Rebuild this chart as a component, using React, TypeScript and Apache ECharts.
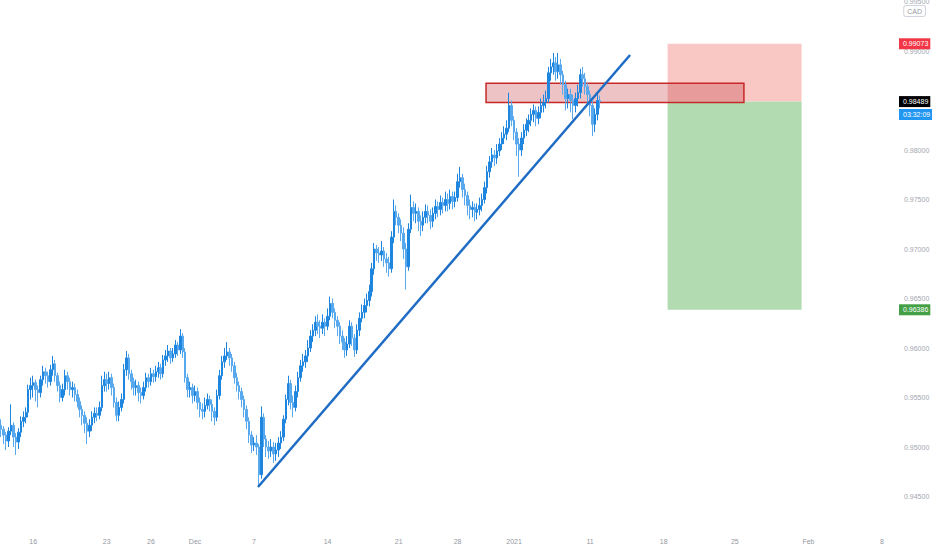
import React, { useEffect, useRef } from "react";
import * as echarts from "echarts";

// ---- time slots (4-hour bars) and date labels ----
const slotCount = 366;
const tickSlots = [13, 43, 61, 79, 103, 133, 162, 186, 209, 240, 270, 299, 329, 359];
const tickLabels = ["16", "23", "26", "Dec", "7", "14", "21", "28", "2021", "11", "18", "25", "Feb", "8"];

// ---- OHLC values (4-hour candles) ----
const firstOpen = 0.9522;
const closes = [
  0.9518, 0.9512, 0.9506, 0.9516, 0.9522, 0.9510, 0.9505, 0.9515, 0.9526, 0.9530,
  0.9535, 0.9558, 0.9562, 0.9565, 0.9558, 0.9555, 0.9568, 0.9576, 0.9572, 0.9566,
  0.9578, 0.9584, 0.9572, 0.9562, 0.9550, 0.9558, 0.9572, 0.9566, 0.9558, 0.9560,
  0.9553, 0.9546, 0.9538, 0.9532, 0.9524, 0.9516, 0.9522, 0.9530, 0.9534, 0.9532,
  0.9540, 0.9562, 0.9568, 0.9564, 0.9570, 0.9560, 0.9545, 0.9532, 0.9540, 0.9548,
  0.9578, 0.9590, 0.9574, 0.9566, 0.9560, 0.9562, 0.9555, 0.9552, 0.9560, 0.9570,
  0.9566, 0.9574, 0.9571, 0.9576, 0.9580, 0.9574, 0.9588, 0.9592, 0.9597, 0.9590,
  0.9594, 0.9603, 0.9598, 0.9612, 0.9596, 0.9570, 0.9558, 0.9560, 0.9552, 0.9556,
  0.9545, 0.9538, 0.9536, 0.9542, 0.9548, 0.9543, 0.9536, 0.9530, 0.9552, 0.9572,
  0.9586, 0.9592, 0.9596, 0.9590, 0.9582, 0.9570, 0.9562, 0.9556, 0.9548, 0.9538,
  0.9526, 0.9512, 0.9502, 0.9504, 0.9500, 0.9472, 0.9530, 0.9508, 0.9500, 0.9496,
  0.9500, 0.9493, 0.9497, 0.9504, 0.9510, 0.9528, 0.9548, 0.9564, 0.9545, 0.9540,
  0.9556, 0.9570, 0.9582, 0.9586, 0.9592, 0.9600, 0.9612, 0.9618, 0.9626, 0.9622,
  0.9620, 0.9626, 0.9622, 0.9632, 0.9645, 0.9636, 0.9628, 0.9622, 0.9612, 0.9606,
  0.9598, 0.9604, 0.9622, 0.9610, 0.9598, 0.9618, 0.9630, 0.9636, 0.9643, 0.9648,
  0.9657, 0.9680, 0.9700, 0.9696, 0.9694, 0.9698, 0.9690, 0.9686, 0.9680, 0.9712,
  0.9738, 0.9732, 0.9724, 0.9716, 0.9700, 0.9682, 0.9720, 0.9742, 0.9736, 0.9738,
  0.9728, 0.9724, 0.9732, 0.9738, 0.9734, 0.9728, 0.9736, 0.9743, 0.9740, 0.9747,
  0.9744, 0.9750, 0.9746, 0.9753, 0.9748, 0.9752, 0.9768, 0.9772, 0.9760, 0.9754,
  0.9744, 0.9740, 0.9742, 0.9737, 0.9740, 0.9744, 0.9750, 0.9762, 0.9778, 0.9788,
  0.9795, 0.9792, 0.9799, 0.9806, 0.9812, 0.9816, 0.9822, 0.9845, 0.9830, 0.9818,
  0.9806, 0.9800, 0.9812, 0.9820, 0.9826, 0.9830, 0.9836, 0.9840, 0.9832, 0.9838,
  0.9845, 0.9848, 0.9852, 0.9878, 0.9884, 0.9888, 0.9879, 0.9886, 0.9876, 0.9866,
  0.9852, 0.9856, 0.9850, 0.9845, 0.9852, 0.9858, 0.9876, 0.9872, 0.9864, 0.9856,
  0.9845, 0.9826, 0.9836, 0.9850, 0.98489,
];
const highs = [
  0.9528, 0.9521, 0.9515, 0.9520, 0.9543, 0.9525, 0.9514, 0.9519, 0.9531, 0.9536,
  0.9540, 0.9563, 0.9570, 0.9572, 0.9568, 0.9562, 0.9572, 0.9582, 0.9580, 0.9576,
  0.9583, 0.9592, 0.9588, 0.9575, 0.9566, 0.9564, 0.9578, 0.9576, 0.9570, 0.9566,
  0.9564, 0.9558, 0.9550, 0.9542, 0.9536, 0.9530, 0.9528, 0.9536, 0.9540, 0.9540,
  0.9546, 0.9572, 0.9576, 0.9574, 0.9576, 0.9574, 0.9564, 0.9550, 0.9546, 0.9554,
  0.9584, 0.9597, 0.9594, 0.9578, 0.9570, 0.9568, 0.9566, 0.9560, 0.9566, 0.9575,
  0.9574, 0.9580, 0.9578, 0.9582, 0.9586, 0.9584, 0.9593, 0.9598, 0.9603, 0.9600,
  0.9600, 0.9608, 0.9606, 0.9619, 0.9615, 0.9600, 0.9574, 0.9566, 0.9564, 0.9562,
  0.9560, 0.9550, 0.9544, 0.9550, 0.9554, 0.9552, 0.9548, 0.9540, 0.9558, 0.9578,
  0.9592, 0.9600, 0.9606, 0.9600, 0.9594, 0.9586, 0.9575, 0.9566, 0.9560, 0.9552,
  0.9542, 0.9530, 0.9516, 0.9510, 0.9512, 0.9503, 0.9541, 0.9534, 0.9512, 0.9506,
  0.9508, 0.9505, 0.9504, 0.9510, 0.9516, 0.9532, 0.9553, 0.9572, 0.9568, 0.9552,
  0.9562, 0.9576, 0.9588, 0.9594, 0.9598, 0.9608, 0.9618, 0.9624, 0.9632, 0.9634,
  0.9628, 0.9634, 0.9630, 0.9640, 0.9652, 0.9650, 0.9640, 0.9632, 0.9626, 0.9618,
  0.9610, 0.9612, 0.9628, 0.9626, 0.9614, 0.9624, 0.9636, 0.9644, 0.9650, 0.9655,
  0.9664, 0.9686, 0.9706, 0.9704, 0.9702, 0.9708, 0.9702, 0.9696, 0.9692, 0.9718,
  0.9750, 0.9744, 0.9736, 0.9730, 0.9722, 0.9706, 0.9726, 0.9755, 0.9748, 0.9746,
  0.9742, 0.9734, 0.9738, 0.9745, 0.9744, 0.9740, 0.9742, 0.9750, 0.9748, 0.9754,
  0.9752, 0.9758, 0.9756, 0.9760, 0.9758, 0.9758, 0.9776, 0.9783, 0.9776, 0.9766,
  0.9758, 0.9750, 0.9748, 0.9746, 0.9746, 0.9752, 0.9756, 0.9768, 0.9784, 0.9794,
  0.9802, 0.9800, 0.9806, 0.9812, 0.9818, 0.9824, 0.9830, 0.9858, 0.9850, 0.9834,
  0.9822, 0.9812, 0.9818, 0.9826, 0.9832, 0.9836, 0.9842, 0.9846, 0.9844, 0.9844,
  0.9852, 0.9856, 0.9860, 0.9884, 0.9892, 0.9898, 0.9894, 0.9898, 0.9892, 0.9880,
  0.9870, 0.9862, 0.9862, 0.9856, 0.9858, 0.9866, 0.9882, 0.9884, 0.9878, 0.9868,
  0.9860, 0.9850, 0.9842, 0.9856, 0.9855,
];
const lows = [
  0.9510, 0.9503, 0.9497, 0.9500, 0.9512, 0.9500, 0.9492, 0.9498, 0.9510, 0.9520,
  0.9524, 0.9530, 0.9548, 0.9550, 0.9546, 0.9540, 0.9550, 0.9562, 0.9564, 0.9560,
  0.9562, 0.9572, 0.9566, 0.9556, 0.9545, 0.9546, 0.9552, 0.9558, 0.9552, 0.9550,
  0.9546, 0.9540, 0.9530, 0.9522, 0.9514, 0.9503, 0.9510, 0.9516, 0.9524, 0.9526,
  0.9528, 0.9536, 0.9556, 0.9556, 0.9558, 0.9552, 0.9540, 0.9526, 0.9526, 0.9536,
  0.9544, 0.9572, 0.9568, 0.9558, 0.9552, 0.9552, 0.9546, 0.9544, 0.9548, 0.9556,
  0.9560, 0.9562, 0.9565, 0.9566, 0.9570, 0.9568, 0.9570, 0.9582, 0.9586, 0.9584,
  0.9586, 0.9590, 0.9592, 0.9594, 0.9590, 0.9565, 0.9550, 0.9550, 0.9544, 0.9546,
  0.9538, 0.9530, 0.9528, 0.9530, 0.9538, 0.9536, 0.9526, 0.9522, 0.9526, 0.9548,
  0.9568, 0.9580, 0.9588, 0.9582, 0.9576, 0.9564, 0.9556, 0.9548, 0.9540, 0.9530,
  0.9518, 0.9504, 0.9494, 0.9496, 0.9492, 0.9460, 0.9468, 0.9500, 0.9490, 0.9488,
  0.9490, 0.9484, 0.9486, 0.9490, 0.9498, 0.9506, 0.9524, 0.9542, 0.9538, 0.9530,
  0.9536, 0.9550, 0.9566, 0.9576, 0.9580, 0.9586, 0.9596, 0.9606, 0.9612, 0.9614,
  0.9610, 0.9614, 0.9612, 0.9618, 0.9628, 0.9630, 0.9620, 0.9612, 0.9604, 0.9598,
  0.9590, 0.9592, 0.9600, 0.9602, 0.9591, 0.9594, 0.9612, 0.9626, 0.9630, 0.9636,
  0.9642, 0.9652, 0.9674, 0.9688, 0.9686, 0.9688, 0.9682, 0.9676, 0.9672, 0.9676,
  0.9706, 0.9724, 0.9716, 0.9708, 0.9690, 0.9659, 0.9678, 0.9716, 0.9728, 0.9726,
  0.9718, 0.9713, 0.9718, 0.9726, 0.9726, 0.9720, 0.9722, 0.9730, 0.9732, 0.9734,
  0.9736, 0.9738, 0.9738, 0.9740, 0.9740, 0.9742, 0.9748, 0.9762, 0.9752, 0.9744,
  0.9734, 0.9730, 0.9732, 0.9728, 0.9730, 0.9734, 0.9738, 0.9746, 0.9756, 0.9772,
  0.9782, 0.9784, 0.9786, 0.9794, 0.9800, 0.9806, 0.9810, 0.9818, 0.9824, 0.9810,
  0.9794, 0.9773, 0.9794, 0.9806, 0.9814, 0.9818, 0.9824, 0.9828, 0.9824, 0.9826,
  0.9832, 0.9838, 0.9842, 0.9848, 0.9870, 0.9876, 0.9870, 0.9872, 0.9866, 0.9856,
  0.9840, 0.9842, 0.9838, 0.9831, 0.9838, 0.9844, 0.9852, 0.9864, 0.9856, 0.9846,
  0.9834, 0.9814, 0.9818, 0.9830, 0.9842,
];

// ---- drawings (slot index, price) ----
const trendStart = [104.65, 0.94596];
const trendEnd = [256.3, 0.9896];
const zoneFrom = 197.6;
const zoneTo = 302.7;
const zoneLow = 0.9848;
const zoneHigh = 0.98675;
const positionFrom = 271.6;
const positionTo = 326.2;
const entryPrice = 0.98489;
const stopPrice = 0.99073;
const targetPrice = 0.96386;
const countdown = "03:32:09";
const quoteCurrency = "CAD";

const FONT = "'Liberation Sans', Arial, sans-serif";

export default function App() {
  const ref = useRef<HTMLDivElement>(null);

  useEffect(() => {
    if (!ref.current) return;
    const chart = echarts.init(ref.current, undefined, { renderer: "svg" });

    const categories = Array.from({ length: slotCount }, (_, i) => "s" + i);
    const candles = closes.map((c, i) => [i === 0 ? firstOpen : closes[i - 1], c, lows[i], highs[i]]);

    const tag = (value: number, text: string, bg: string, offsetY = 0) => ({
      yAxis: value,
      label: {
        show: true,
        formatter: text,
        backgroundColor: bg,
        offset: [0, offsetY],
      },
    });

    chart.setOption({
      animation: false,
      backgroundColor: "#ffffff",
      textStyle: { fontFamily: FONT },
      grid: { left: 0, right: 34, top: 1.5, bottom: 4, outerBoundsMode: "none" },
      xAxis: [
        {
          type: "category",
          data: categories,
          boundaryGap: true,
          axisLine: { show: false },
          axisTick: { show: false },
          splitLine: { show: false },
          axisLabel: {
            inside: true,
            margin: 1,
            fontSize: 7,
            color: "#9598a1",
            fontFamily: FONT,
            interval: (index: number) => tickSlots.indexOf(index) >= 0,
            formatter: (_v: string, index: number) => {
              const k = tickSlots.indexOf(index);
              return k >= 0 ? tickLabels[k] : "";
            },
          },
        },
        { type: "value", min: -0.5, max: slotCount - 0.5, show: false },
      ],
      yAxis: {
        type: "value",
        position: "right",
        min: 0.94,
        max: 0.995,
        interval: 0.005,
        axisLine: { show: false },
        axisTick: { show: false },
        splitLine: { show: false },
        axisLabel: {
          showMinLabel: false,
          margin: 6,
          fontSize: 7,
          color: "#a3a6af",
          fontFamily: FONT,
          formatter: (v: number) => v.toFixed(5),
        },
      },
      graphic: [
        {
          type: "text",
          right: 6,
          top: 5,
          z: 100,
          style: {
            text: quoteCurrency,
            fontSize: 7,
            fontFamily: FONT,
            fill: "#9598a1",
            backgroundColor: "#ffffff",
            borderColor: "#d1d4dc",
            borderWidth: 1,
            borderRadius: 2,
            padding: [2, 3, 1, 3],
          },
        },
      ],
      series: [
        {
          type: "candlestick",
          xAxisIndex: 0,
          yAxisIndex: 0,
          data: candles,
          barWidth: 2,
          itemStyle: {
            color: "#1f86e0",
            color0: "#58a8ee",
            borderColor: "#1f86e0",
            borderColor0: "#58a8ee",
            borderWidth: 1,
          },
          markLine: {
            silent: true,
            precision: 5,
            symbol: ["none", "none"],
            lineStyle: { color: "rgba(0,0,0,0)", width: 1, type: "solid" },
            label: {
              show: true,
              position: "end",
              distance: 1,
              color: "#ffffff",
              fontSize: 7,
              fontFamily: FONT,
              lineHeight: 9,
              padding: [1, 2, 1, 4],
            },
            data: [
              tag(stopPrice, stopPrice.toFixed(5), "#f23645"),
              tag(targetPrice, targetPrice.toFixed(5), "#43a047"),
              tag(entryPrice, entryPrice.toFixed(5), "#000000"),
              tag(entryPrice, countdown, "#2196f3", 13),
            ],
          },
        },
        {
          type: "line",
          xAxisIndex: 1,
          yAxisIndex: 0,
          data: [trendStart, trendEnd],
          symbol: "none",
          lineStyle: { color: "#1e6cc4", width: 2.5 },
          markArea: {
            silent: true,
            label: { show: false },
            data: [
              [
                { xAxis: positionFrom, yAxis: entryPrice, itemStyle: { color: "#f9c8c4" } },
                { xAxis: positionTo, yAxis: stopPrice },
              ],
              [
                { xAxis: positionFrom, yAxis: targetPrice, itemStyle: { color: "#b3dbb1" } },
                { xAxis: positionTo, yAxis: entryPrice },
              ],
              [
                {
                  xAxis: zoneFrom,
                  yAxis: zoneLow,
                  itemStyle: { color: "rgba(190,40,50,0.28)", borderColor: "#c62828", borderWidth: 1.5 },
                },
                { xAxis: zoneTo, yAxis: zoneHigh },
              ],
            ],
          },
        },
      ],
    });

    return () => chart.dispose();
  }, []);

  return (
    <div
      ref={ref}
      style={{ position: "fixed", left: 0, top: 0, width: 932, height: 550, background: "#ffffff" }}
    />
  );
}
